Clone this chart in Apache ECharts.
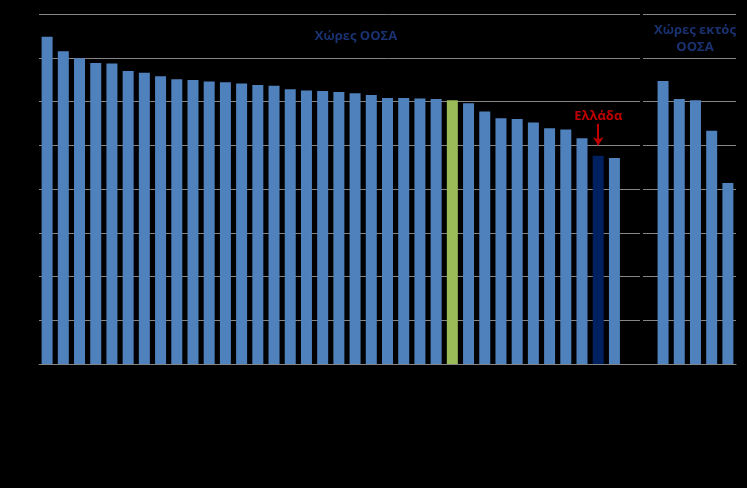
<!DOCTYPE html>
<html>
<head>
<meta charset="utf-8">
<script src="https://cdn.jsdelivr.net/npm/echarts@6/dist/echarts.min.js"></script>
<style>
  html, body { margin: 0; padding: 0; background: #000; }
  #chart { width: 747px; height: 488px; }
</style>
</head>
<body>
<div id="chart"></div>
<script>
// OECD countries, sorted (labels are not visible in the picture)
var oecdValues = [74.8, 71.5, 69.9, 68.8, 68.7, 67.0, 66.6, 65.8, 65.1, 64.9,
                  64.6, 64.4, 64.1, 63.8, 63.6, 62.8, 62.5, 62.4, 62.2, 61.9,
                  61.5, 60.8, 60.8, 60.7, 60.6, 60.3, 59.6, 57.7, 56.2, 56.0,
                  55.2, 53.9, 53.6, 51.6, 47.6, 47.1];
// non-OECD countries
var nonOecdValues = [64.7, 60.6, 60.3, 53.3, 41.4];
var averageIndex = 25;   // green bar
var greeceIndex = 34;    // dark bar
var yTicks = [0, 10, 20, 30, 40, 50, 60, 70, 80];

var blue = '#4f81bd', green = '#9bbb59', navy = '#002060', red = '#c00000';
var labelBlue = '#1a3272';

// category list: OECD, two empty slots, non-OECD
var categories = [];
var barData = [];
oecdValues.forEach(function (v, i) {
    categories.push('o' + i);
    var c = i == averageIndex ? green : (i == greeceIndex ? navy : blue);
    barData.push({ value: v, itemStyle: { color: c } });
});
categories.push('gap1'); barData.push(null);
categories.push('gap2'); barData.push(null);
nonOecdValues.forEach(function (v, i) {
    categories.push('n' + i);
    barData.push({ value: v, itemStyle: { color: blue } });
});

var myChart = echarts.init(document.getElementById('chart'));
var option = {
    backgroundColor: '#000',
    animation: false,
    grid: { left: 39, right: 11, top: 14, bottom: 124 },
    xAxis: [{
        type: 'category',
        data: categories,
        axisLine: { lineStyle: { color: '#868686' } },
        axisTick: { show: false },
        axisLabel: { show: false }
    }, {
        // helper axis used only to place the panel separator
        type: 'value',
        min: 0,
        max: categories.length,
        show: false
    }],
    yAxis: {
        type: 'value',
        min: yTicks[0],
        max: yTicks[yTicks.length - 1],
        interval: 10,
        axisLine: { show: false },
        axisTick: { show: false },
        axisLabel: { show: false },
        splitLine: { lineStyle: { color: '#868686', width: 1 } }
    },
    series: [{
        type: 'bar',
        data: barData,
        barWidth: 11,
        z: 2,
        markLine: {
            silent: true,
            symbol: ['none', 'arrow'],
            symbolSize: [8, 8],
            lineStyle: { color: red, width: 2, type: 'solid' },
            label: {
                show: true,
                position: 'start',
                distance: 1,
                formatter: 'Ελλάδα',
                color: red,
                fontFamily: 'Open Sans',
                fontWeight: 'bold',
                fontSize: 13
            },
            data: [[
                { coord: [greeceIndex, 54.9] },
                { coord: [greeceIndex, 50.0] }
            ]]
        }
    }, {
        type: 'line',
        xAxisIndex: 1,
        data: [],
        z: 3,
        markLine: {
            silent: true,
            symbol: ['none', 'none'],
            label: { show: false },
            lineStyle: { color: '#000', width: 3, type: 'solid' },
            data: [{ xAxis: 37.15 }]
        }
    }],
    graphic: [{
        type: 'text',
        x: 356,
        y: 30,
        style: {
            text: 'Χώρες ΟΟΣΑ',
            align: 'center',
            fill: labelBlue,
            font: 'bold 13px "Open Sans"'
        }
    }, {
        type: 'text',
        x: 695,
        y: 24,
        style: {
            text: 'Χώρες εκτός',
            align: 'center',
            fill: labelBlue,
            font: 'bold 13px "Open Sans"'
        }
    }, {
        type: 'text',
        x: 695,
        y: 41,
        style: {
            text: 'ΟΟΣΑ',
            align: 'center',
            fill: labelBlue,
            font: 'bold 13px "Open Sans"'
        }
    }]
};
myChart.setOption(option);
</script>
</body>
</html>
